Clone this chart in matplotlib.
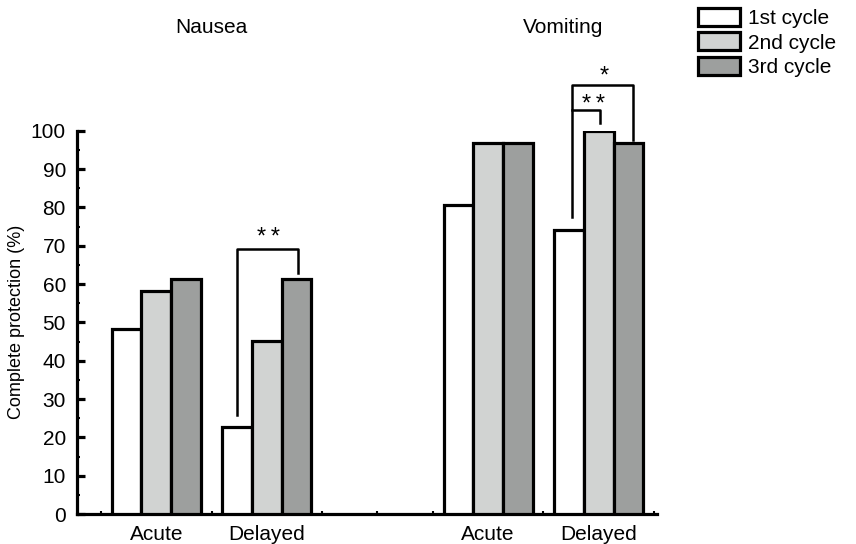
import matplotlib
matplotlib.use('Agg')
import matplotlib.pyplot as plt
from matplotlib.ticker import MultipleLocator

plt.rcParams['font.family'] = ['Liberation Sans', 'DejaVu Sans']

# Complete protection (%) per cycle, n = 31
cycles = ['1st cycle', '2nd cycle', '3rd cycle']
nausea_acute = [48.4, 58.1, 61.3]
nausea_delayed = [22.6, 45.2, 61.3]
vomiting_acute = [80.6, 96.8, 96.8]
vomiting_delayed = [74.2, 100.0, 96.8]

groups = [nausea_acute, nausea_delayed, vomiting_acute, vomiting_delayed]
group_pos = [1, 3, 7, 9]
group_labels = ['Acute', 'Delayed', 'Acute', 'Delayed']
colors = ['white', '#d1d3d2', '#9d9f9e']

fs = 15

fig = plt.figure(figsize=(8.56, 5.44), dpi=100)
ax = fig.add_axes([0.09, 0.0551, 0.6772, 0.7046])

w = 0.537
handles = []
for i, c in enumerate(cycles):
    xs = [p + (i - 1) * w for p in group_pos]
    ys = [g[i] for g in groups]
    b = ax.bar(xs, ys, width=w, color=colors[i], edgecolor='black',
               linewidth=2.3, label=c, zorder=3)
    handles.append(b)

ax.set_xlim(-0.432, 10.05)
ax.set_ylim(0, 100)
ax.spines['top'].set_visible(False)
ax.spines['right'].set_visible(False)
for s in ['left', 'bottom']:
    ax.spines[s].set_linewidth(2.3)

ax.yaxis.set_major_locator(MultipleLocator(10))
ax.yaxis.set_minor_locator(MultipleLocator(5))
ax.tick_params(axis='y', which='major', direction='in', length=6, width=2.3,
               labelsize=fs, pad=8)
ax.tick_params(axis='y', which='minor', direction='in', length=2, width=1.5)
ax.set_xticks(group_pos)
ax.set_xticklabels(group_labels)
ax.set_xticks(range(0, 11), minor=True)
ax.tick_params(axis='x', which='both', direction='in', length=2, width=1.5,
               labelsize=fs, pad=8)
ax.set_ylabel('Complete protection (%)', fontsize=13, labelpad=4)

# panel titles
ax.text(2.0, 127, 'Nausea', ha='center', va='center', fontsize=fs, clip_on=False)
ax.text(8.35, 127, 'Vomiting', ha='center', va='center', fontsize=fs, clip_on=False)

# significance brackets
blw = 1.8
def bracket(x1, x2, y, y1, y2, label, tx, ty):
    ax.plot([x1, x1, x2, x2], [y1, y, y, y2], color='black', lw=blw,
            clip_on=False, zorder=4)
    ax.text(tx, ty, label, ha='center', va='center', fontsize=17, clip_on=False)

x_n1 = 3 - w
x_n3 = 3 + w
bracket(x_n1, x_n3 + 0.03, 69.1, 25.8, 62.8, '*\u2009*', 3.03, 72.0)

x_v1 = 9 - w + 0.05
bracket(x_v1, 9 + w + 0.09, 111.8, 77.5, 97.6, '*', 9.1, 114.2)
bracket(x_v1, 9.02, 105.3, 105.3, 102.0, '*\u2009*', 8.9, 106.6)

fig.legend(handles=handles, labels=cycles, loc='upper left',
           bbox_to_anchor=(0.815, 0.985), frameon=False, fontsize=fs,
           handlelength=2.05, handleheight=0.95, handletextpad=0.35,
           labelspacing=0.2, borderpad=0, borderaxespad=0)

fig.savefig('out.png', dpi=100)
